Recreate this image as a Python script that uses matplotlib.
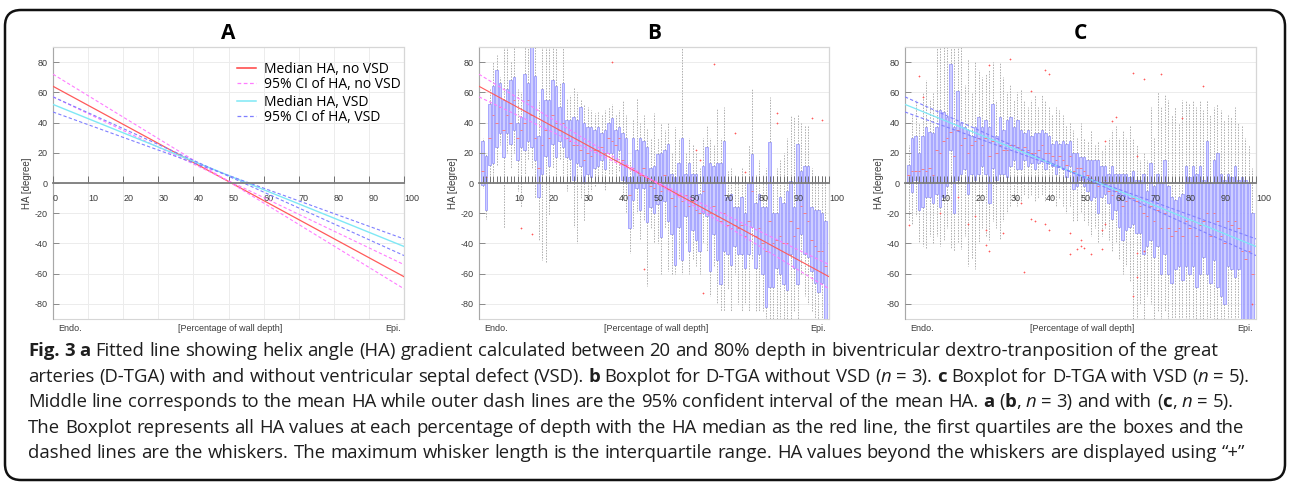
import matplotlib
matplotlib.use('Agg')
import matplotlib.pyplot as plt
from matplotlib.patches import FancyBboxPatch, Rectangle
from matplotlib.lines import Line2D
from matplotlib.font_manager import FontProperties

plt.rcParams['font.family'] = ['Liberation Sans', 'DejaVu Sans']

# ---------------- data ----------------
fit_x = [0, 100]
median_novsd = [64, -62]
ci_novsd_a = [72, -70]
ci_novsd_b = [57, -54]
median_vsd = [52, -42]
ci_vsd_a = [57, -48]
ci_vsd_b = [47, -37]

depth = list(range(1, 100))

B_q3 = [28,18,52,64,75,66,55,62,68,70, 40,44,72,66,90,71,31,62,55,55, 68,64,50,66,42,42,44,42,50,40,
        37,37,35,37,33,35,40,43,35,37, 33,30,4,30,22,30,28,24,10,11, 19,20,22,26,6,4,13,30,6,13,
        6,6,-7,11,24,13,11,13,13,28, -9,-7,-16,-16,-9,-20,0,19,-13,-7, -16,-16,27,-20,-20,-9,-13,-5,1,-16,
        26,8,11,11,-16,-18,-18,-20,-25]
B_q1 = [-1,-18,12,13,24,33,17,33,26,35, 15,24,22,28,24,15,-9,6,18,11, 26,17,28,24,17,16,2,13,11,0,
        6,4,10,11,15,9,20,20,15,22, 2,0,-30,-11,-3,-18,-3,-26,-16,-20, -14,-36,-12,-25,-34,-54,-29,-51,-22,-45,
        -31,-38,-45,-20,-22,-58,-34,-51,-67,-45, -47,-54,-42,-47,-47,-56,-47,-29,-56,-47,
        -60,-82,-69,-69,-56,-60,-67,-71,-47,-56, -67,-34,-47,-49,-58,-66,-72,-66,-90]
B_med = [8,4,30,45,40,50,35,45,40,55, 30,35,40,55,45,30,10,25,35,30, 45,40,35,40,30,28,25,25,22,15,
         20,18,22,22,24,20,30,28,25,30, 15,12,-8,10,8,5,10,2,-2,-3, 0,-5,5,0,-10,-15,-8,-12,-8,-15,
         -12,-18,-20,-5,0,-20,-15,-22,-25,-20, -28,-30,-28,-30,-28,-35,-25,-5,-35,-30,
         -40,-45,-25,-40,-38,-35,-40,-40,-25,-35, -30,-15,-20,-25,-38,-42,-45,-45,-55]
B_hi = [30,20,62,80,85,70,90,90,80,90, 62,60,90,90,90,90,55,90,90,90, 90,90,66,90,56,58,63,60,55,52,
        50,48,46,47,45,48,50,52,45,48, 55,45,15,42,56,40,45,36,30,46, 30,40,35,40,20,37,30,90,20,30,
        25,20,10,30,38,30,25,49,30,50, 8,10,5,0,10,5,25,63,5,15, 5,10,57,5,10,15,20,30,45,44,
        45,40,38,38,10,5,5,5,0]
B_lo = [-3,-24,5,5,12,25,-30,20,10,20, -5,-16,5,15,10,-10,-38,-51,-53,-21, 10,5,15,5,-5,0,-29,-40,-10,-25,
        -10,-5,-2,0,0,-5,5,5,0,8, -10,-20,-46,-30,-20,-38,-25,-68,-30,-40, -40,-60,-30,-58,-60,-60,-50,-60,-40,-60,
        -50,-55,-60,-40,-45,-75,-55,-80,-85,-85, -70,-85,-60,-80,-85,-80,-85,-50,-85,-85,
        -85,-90,-90,-90,-90,-90,-90,-90,-90,-85, -90,-60,-75,-80,-85,-90,-90,-90,-90]
B_out_pos = [12, 15, 38, 47, 62, 63, 64, 67, 73, 76, 85, 85, 95, 98]
B_out_val = [-30, -34, 80, -57, 22, 15, -73, 79, 33, 7, 46, 40, 43, 42]

C_q3 = [12,30,31,20,31,37,34,33,37,48, 47,44,79,37,61,40,37,35,31,37, 44,37,42,37,52,31,44,35,42,44,
        37,42,35,33,35,31,33,33,35,33, 31,26,28,26,28,26,28,20,20,17, 17,15,15,15,15,11,11,6,11,6,
        6,6,6,4,8,2,2,6,-5,13, -2,6,0,15,-2,-9,-11,-9,-7,11, 4,11,6,11,2,28,0,15,20,6,
        2,6,4,11,2,4,2,0,-20]
C_q1 = [0,-6,2,-18,-16,-9,-9,-13,-7,-16, -9,-2,22,-20,2,6,9,-7,6,2, 6,11,6,-13,10,2,6,6,4,11,
        15,9,9,15,11,13,9,13,15,9, 13,11,6,11,9,4,11,-4,-2,2, -2,-5,-11,-9,-20,-9,-7,-13,-24,-18,
        -29,-38,-31,-29,-27,-33,-33,-47,-42,-38, -49,-42,-60,-47,-60,-66,-57,-55,-64,-55,
        -60,-55,-69,-60,-49,-60,-66,-51,-69,-75, -80,-55,-57,-62,-57,-90,-90,-90,-90]
C_med = [5,8,8,8,9,8,10,5,22,20, 28,30,34,18,35,25,30,20,25,28, 30,25,30,18,28,20,25,22,22,25,
         25,24,22,24,22,20,20,22,25,20, 20,18,15,18,15,12,18,8,10,10, 8,5,3,2,-2,0,2,-5,-8,-5,
         -10,-15,-12,-10,-10,-12,-15,-20,-22,-15, -25,-18,-30,-20,-30,-35,-32,-30,-35,-25,
         -30,-25,-35,-28,-25,-20,-35,-20,-25,-35, -40,-25,-28,-25,-30,-45,-50,-45,-60]
C_hi = [25,45,55,40,60,68,55,60,90,90, 90,90,90,90,90,90,65,82,60,80, 75,70,72,75,80,55,80,70,60,65,
        55,60,62,55,50,55,58,50,58,55, 50,45,50,48,45,38,40,35,30,40, 30,28,35,25,28,22,25,30,35,38,
        30,35,30,38,30,25,15,20,15,50, 30,60,50,58,55,45,50,40,55,55, 52,55,50,55,48,55,45,50,52,48,
        42,45,44,50,40,38,30,25,10]
C_lo = [-25,-27,-22,-40,-42,-43,-35,-40,-35,-42, -38,-30,-43,-45,-40,-44,-35,-55,-50,-57, -40,-30,-35,-38,-25,-30,-38,-25,-20,-15,
        -10,-15,-12,-8,-10,-8,-12,-10,-8,-12, -8,-10,-15,-10,-15,-20,-15,-25,-25,-20, -25,-28,-35,-30,-40,-35,-30,-38,-45,-40,
        -50,-60,-55,-65,-90,-90,-80,-90,-75,-80, -90,-85,-90,-85,-90,-90,-90,-90,-90,-90,
        -90,-90,-90,-90,-90,-90,-90,-90,-90,-90, -90,-90,-90,-90,-90,-90,-90,-90,-90]
C_out_pos = [1,4,5,10,15,18,20,23,23,24, 24,28,30,33,34,36,36,37,40,40, 41,41,47,47,49,50,50,51,53,56,
             56,57,57,59,60,65,65,66,66,66, 68,68,73,79,85,99]
C_out_val = [-28,71,57,-20,-9,-27,-22,-31,-41,78, -45,-33,82,-13,-59,61,-24,-25,75,-27, 72,-31,-33,-47,-44,-42,-38,-43,-47,-31,
             -44,-27,28,41,44,73,-75,18,-46,-62, 69,-45,72,43,64,-80]

y_ticks = [-80, -60, -40, -20, 0, 20, 40, 60, 80]
xA_ticks = [0, 10, 20, 30, 40, 50, 60, 70, 80, 90, 100]
xbox_ticks = depth + [100]

caption = [
    [("Fig. 3 a", 'b'), (" Fitted line showing helix angle (HA) gradient calculated between 20 and 80% depth in biventricular dextro-tranposition of the great", 'r')],
    [("arteries (D-TGA) with and without ventricular septal defect (VSD). ", 'r'), ("b", 'b'), (" Boxplot for D-TGA without VSD (", 'r'), ("n", 'i'),
     (" = 3). ", 'r'), ("c", 'b'), (" Boxplot for D-TGA with VSD (", 'r'), ("n", 'i'), (" = 5).", 'r')],
    [("Middle line corresponds to the mean HA while outer dash lines are the 95% confident interval of the mean HA. ", 'r'), ("a", 'b'), (" (", 'r'),
     ("b", 'b'), (", ", 'r'), ("n", 'i'), (" = 3) and with (", 'r'), ("c", 'b'), (", ", 'r'), ("n", 'i'), (" = 5).", 'r')],
    [("The Boxplot represents all HA values at each percentage of depth with the HA median as the red line, the first quartiles are the boxes and the", 'r')],
    [("dashed lines are the whiskers. The maximum whisker length is the interquartile range. HA values beyond the whiskers are displayed using \u201c+\u201d", 'r')],
]

# ---------------- style ----------------
RED = '#ff5a5a'
MAG = '#ff7cff'
CYAN = '#7fe8f5'
BLUE = '#7f7fff'
GRID = '#ececec'
W, H = 1290, 486

fig = plt.figure(figsize=(12.9, 4.86), dpi=100)
fig.patch.set_facecolor('white')


def px_axes(l, t, r, b):
    return fig.add_axes([l / W, 1 - b / H, (r - l) / W, (b - t) / H])


def style_axes(ax, xticks, xlabels, title, xgrid):
    ax.set_xlim(0, 100)
    ax.set_ylim(-90, 90)
    ax.spines['bottom'].set_position(('data', 0))
    ax.spines['bottom'].set_color('#7c7c7c')
    ax.spines['bottom'].set_linewidth(1.3)
    ax.spines['bottom'].set_zorder(4)
    ax.spines['left'].set_color('#a8a8a8')
    ax.spines['left'].set_linewidth(0.8)
    for s in ('top', 'right'):
        ax.spines[s].set_color('#d6d6d6')
        ax.spines[s].set_linewidth(0.8)
    ax.add_patch(Rectangle((0, 0), 1, 1, transform=ax.transAxes, fill=False,
                           ec='#d6d6d6', lw=0.8, zorder=0.5, clip_on=False))
    ax.set_yticks(y_ticks)
    ax.set_yticklabels([str(v) for v in y_ticks])
    ax.set_xticks(xticks)
    ax.set_xticklabels(xlabels)
    ax.tick_params(axis='x', direction='in', length=5, width=0.7, colors='#707070',
                   labelsize=6.5, labelcolor='#3c3c3c', pad=8)
    ax.tick_params(axis='y', direction='in', length=4, width=0.7, colors='#8a8a8a',
                   labelsize=6.5, labelcolor='#3c3c3c', pad=4)
    for lab in ax.get_xticklabels():
        lab.set_ha('left')
    # grid drawn underneath everything, axis (ticks + labels) drawn on top
    for yv in y_ticks:
        ax.axhline(yv, color=GRID, lw=0.7, zorder=0.3)
    if xgrid:
        for xv in xticks:
            ax.axvline(xv, color=GRID, lw=0.7, zorder=0.3)
    ax.set_axisbelow(False)
    ax.set_ylabel('HA [degree]', fontsize=7, color='#3c3c3c', labelpad=2)
    ax.text(0.05, -0.035, 'Endo.', transform=ax.transAxes, ha='center', va='center', fontsize=6.5, color='#3c3c3c')
    ax.text(0.505, -0.035, '[Percentage of wall depth]', transform=ax.transAxes, ha='center', va='center', fontsize=6.5, color='#3c3c3c')
    ax.text(0.97, -0.035, 'Epi.', transform=ax.transAxes, ha='center', va='center', fontsize=6.5, color='#3c3c3c')
    ax.text(0.5, 1 + 3 / 272, title, transform=ax.transAxes, ha='center', va='bottom',
            fontsize=15, fontweight='bold', family='Open Sans', color='black')


def draw_boxes(ax, q1, q3, med, lo, hi, opos, oval):
    stats = []
    for i, p in enumerate(depth):
        fl = [v for pp, v in zip(opos, oval) if pp == p]
        stats.append(dict(med=med[i], q1=q1[i], q3=q3[i], whislo=lo[i], whishi=hi[i], fliers=fl))
    ax.bxp(stats, positions=depth, widths=0.72, patch_artist=True, showcaps=False, manage_ticks=False,
           zorder=1.5,
           boxprops=dict(facecolor='#cdcdff', edgecolor='#9797ff', linewidth=0.55),
           whiskerprops=dict(color='#9a9a9a', linestyle=(0, (2, 1.6)), linewidth=0.55),
           medianprops=dict(color='#ff7070', linewidth=0.6),
           flierprops=dict(marker='+', markeredgecolor='#ff5a5a', markersize=2.0,
                           markeredgewidth=0.5, linestyle='none'))


box_labels = [str(p) if p % 10 == 0 else '' for p in xbox_ticks]

# ---- Panel A ----
axA = px_axes(53, 47, 404, 319)
style_axes(axA, xA_ticks, [str(v) for v in xA_ticks], 'A', True)
axA.plot(fit_x, median_novsd, color=RED, lw=0.9, zorder=3)
axA.plot(fit_x, ci_novsd_a, color=MAG, lw=0.8, ls=(0, (3, 2)), zorder=3)
axA.plot(fit_x, ci_novsd_b, color=MAG, lw=0.8, ls=(0, (3, 2)), zorder=3)
axA.plot(fit_x, median_vsd, color=CYAN, lw=1.0, zorder=3)
axA.plot(fit_x, ci_vsd_a, color=BLUE, lw=0.8, ls=(0, (3, 2)), zorder=3)
axA.plot(fit_x, ci_vsd_b, color=BLUE, lw=0.8, ls=(0, (3, 2)), zorder=3)

legprop = dict(family='Open Sans', size=10)
h1 = [Line2D([], [], color='#ff4040', lw=1.1), Line2D([], [], color=MAG, lw=0.9, ls=(0, (3, 2)))]
leg1 = axA.legend(h1, ['Median HA, no VSD', '95% CI of HA, no VSD'], loc='upper left',
                  bbox_to_anchor=(237 / W, 1 - 62 / H), bbox_transform=fig.transFigure,
                  frameon=False, prop=legprop, handlelength=1.4, handletextpad=0.55,
                  labelspacing=0.0, borderpad=0, borderaxespad=0)
axA.add_artist(leg1)
h2 = [Line2D([], [], color=CYAN, lw=1.1), Line2D([], [], color=BLUE, lw=0.9, ls=(0, (3, 2)))]
axA.legend(h2, ['Median HA, VSD', '95% CI of HA, VSD'], loc='upper left',
           bbox_to_anchor=(237 / W, 1 - 95 / H), bbox_transform=fig.transFigure,
           frameon=False, prop=legprop, handlelength=1.4, handletextpad=0.55,
           labelspacing=0.0, borderpad=0, borderaxespad=0)

# ---- Panel B ----
axB = px_axes(479, 47, 829, 319)
style_axes(axB, xbox_ticks, box_labels, 'B', False)
draw_boxes(axB, B_q1, B_q3, B_med, B_lo, B_hi, B_out_pos, B_out_val)
axB.plot(fit_x, median_novsd, color=RED, lw=0.8, zorder=5)
axB.plot(fit_x, ci_novsd_a, color=MAG, lw=0.8, ls=(0, (3, 2)), zorder=5)
axB.plot(fit_x, ci_novsd_b, color=MAG, lw=0.8, ls=(0, (3, 2)), zorder=5)

# ---- Panel C ----
axC = px_axes(905, 47, 1256, 319)
style_axes(axC, xbox_ticks, box_labels, 'C', False)
draw_boxes(axC, C_q1, C_q3, C_med, C_lo, C_hi, C_out_pos, C_out_val)
axC.plot(fit_x, median_vsd, color=CYAN, lw=0.9, zorder=5)
axC.plot(fit_x, ci_vsd_a, color=BLUE, lw=0.8, ls=(0, (3, 2)), zorder=5)
axC.plot(fit_x, ci_vsd_b, color=BLUE, lw=0.8, ls=(0, (3, 2)), zorder=5)

# ---- rounded frame ----
frame = FancyBboxPatch((0.05, 0.06), 12.8, 4.70, boxstyle='round,pad=0,rounding_size=0.16',
                       transform=fig.dpi_scale_trans, fill=False, ec='#111111', lw=1.8)
fig.patches.append(frame)

# ---- caption ----
renderer = fig.canvas.get_renderer()
CAP_FONT = 'Open Sans'


def fprop(style, size):
    return FontProperties(family=CAP_FONT, size=size,
                          weight='bold' if style == 'b' else 'normal',
                          style='italic' if style == 'i' else 'normal')


def text_w(s, fp):
    t = fig.text(0, 0, s, fontproperties=fp)
    w = t.get_window_extent(renderer).width
    t.remove()
    return w


def space_w(fp):
    return text_w('a a', fp) - text_w('aa', fp)


def run_line(pieces, size, x0=None, ybase=None):
    x = 0.0 if x0 is None else x0
    for txt, st in pieces:
        fp = fprop(st, size)
        sw = space_w(fp)
        words = txt.split(' ')
        for k, wd in enumerate(words):
            if wd:
                if x0 is not None:
                    fig.text(x / W, 1 - ybase / H, wd, fontproperties=fp, ha='left', va='baseline', color='#1e1e1e')
                x += text_w(wd, fp)
            if k < len(words) - 1:
                x += sw
    return x - (0.0 if x0 is None else x0)


CAP_X0 = 28
base = 13.0
targets = [1192, 1218, 1215, 1205, 1182]
actual = [run_line(caption[i], base) for i in range(5)]
cap_size = base * sum(targets) / sum(actual)
baselines = [356, 381.5, 407, 432.5, 458]
for pieces, yb in zip(caption, baselines):
    run_line(pieces, cap_size, CAP_X0, yb)

fig.savefig('out.png', dpi=100)
